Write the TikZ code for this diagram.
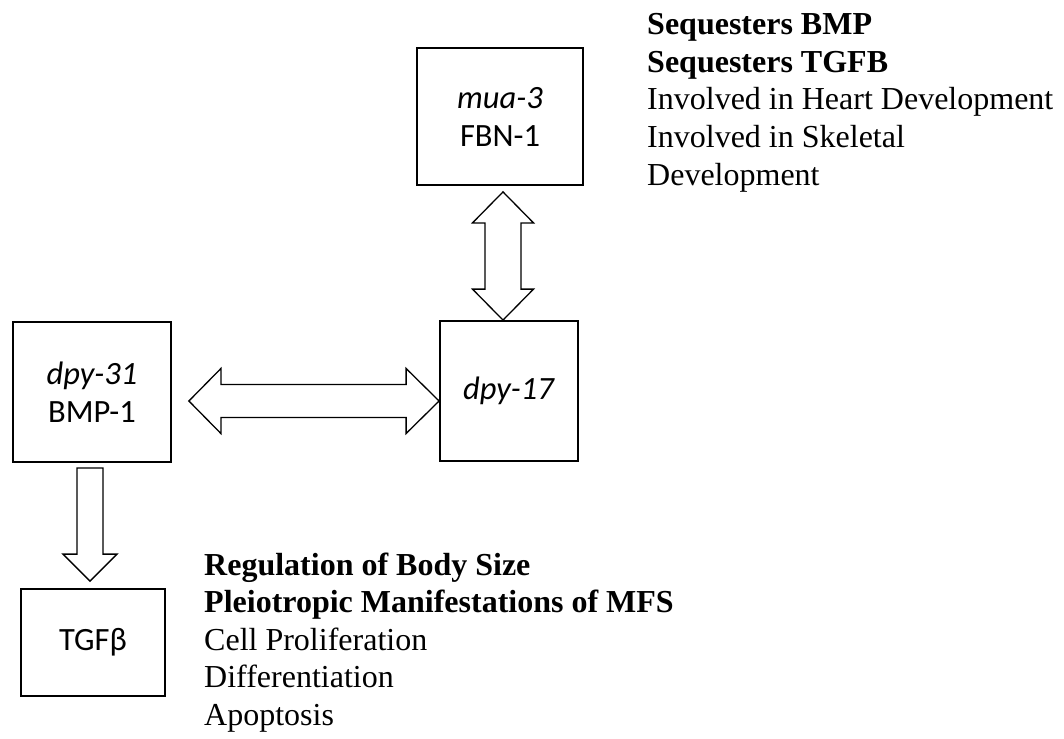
\documentclass[tikz,border=0pt]{standalone}
\usepackage{fontspec}
\setmainfont{Liberation Serif}
\newfontfamily\genefont{Carlito}
\usetikzlibrary{calc}

\tikzset{
    genebox/.style={draw, line width=1.8pt, inner sep=0pt, align=center, font=\genefont\fontsize{32.5}{38}\selectfont},
    blockarrow/.style={draw, line width=1.3pt, fill=white, line join=miter},
    notes/.style={inner sep=0pt, align=left, anchor=base west, font=\fontsize{32}{37.5}\selectfont}
}

\begin{document}
\begin{tikzpicture}[x=1pt, y=-1pt]
    \useasboundingbox (0,0) rectangle (1064,738);

    % Gene boxes
    \node[genebox, minimum width=166pt, minimum height=137pt] (fbn) at (500,116.5) {\textit{mua-3}\\FBN-1};
    \node[genebox, minimum width=138pt, minimum height=140pt] (dpy17) at (509,391) {\textit{dpy-17}};
    \node[genebox, minimum width=158pt, minimum height=140pt] (bmp) at (92,392) {\textit{dpy-31}\\BMP-1};
    \node[genebox, minimum width=144pt, minimum height=107pt] (tgf) at (93,642.5) {TGFβ};

    % Double arrow between mua-3 and dpy-17
    \coordinate (vt) at ($(fbn.south)+(3,6)$);
    \coordinate (vb) at (vt |- dpy17.north);
    \draw[blockarrow] (vt) -- ++(30.5,31) -- ++(-12.5,0) -- ($(vb)+(18,-31)$) -- ++(12.5,0) -- (vb)
        -- ++(-30.5,-31) -- ++(12.5,0) -- ($(vt)+(-18,31)$) -- ++(-12.5,0) -- cycle;

    % Double arrow between dpy-31 and dpy-17
    \coordinate (hl) at ($(bmp.east)+(17,9)$);
    \coordinate (hr) at (hl -| dpy17.west);
    \draw[blockarrow] (hl) -- ++(32,-32.5) -- ++(0,16) -- ($(hr)+(-33,-16.5)$) -- ++(0,-16) -- (hr)
        -- ++(-33,32.5) -- ++(0,-16) -- ($(hl)+(32,16.5)$) -- ++(0,16) -- cycle;

    % Arrow down to TGFb
    \coordinate (dt) at ($(bmp.south)+(-2,5)$);
    \coordinate (db) at ($(dt |- tgf.north)+(0,-7)$);
    \draw[blockarrow] ($(dt)+(-13,0)$) -- ++(26,0) -- ($(db)+(13,-27)$) -- ++(14,0) -- (db)
        -- ++(-27,-27) -- ++(14,0) -- cycle;

    % Notes (anchored at the baseline of the last line)
    \node[notes] (fbnnotes) at (647,185) {\textbf{Sequesters BMP}\\\textbf{Sequesters TGFB}\\Involved in Heart Development\\Involved in Skeletal\\Development};
    \node[notes] (tgfnotes) at (204,725) {\textbf{Regulation of Body Size}\\\textbf{Pleiotropic Manifestations of MFS}\\Cell Proliferation\\Differentiation\\Apoptosis};
\end{tikzpicture}
\end{document}
